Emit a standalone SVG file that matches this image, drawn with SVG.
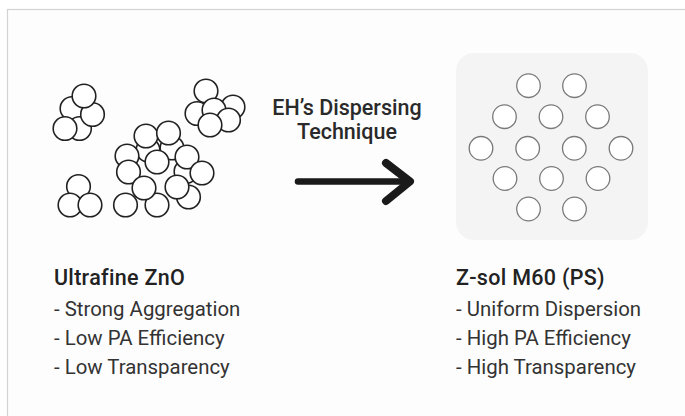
<svg xmlns="http://www.w3.org/2000/svg" width="685" height="416" viewBox="0 0 685 416">
<defs>
<style>
.agg{fill:#ffffff;stroke:#222222;stroke-width:1.6}
.dsp{fill:#ffffff;stroke:#7a7a7a;stroke-width:1.3}
.title{font-family:Roboto,"Liberation Sans",sans-serif;font-weight:500;font-size:21.5px;letter-spacing:0.3px;fill:#222222}
.item{font-family:Roboto,"Liberation Sans",sans-serif;font-weight:400;font-size:20.4px;fill:#333333}
.lbl{font-family:Roboto,"Liberation Sans",sans-serif;font-weight:500;font-size:21.5px;fill:#2a2a2a;text-anchor:middle}
</style>
</defs>
<rect x="0" y="0" width="685" height="416" fill="#ffffff"/>
<rect x="7.5" y="9.5" width="700" height="420" fill="#fdfdfd" stroke="#d2d2d2" stroke-width="1.2"/>

<g id="aggregated-zno">
  <circle class="agg" cx="72" cy="108.5" r="11.8"/>
  <circle class="agg" cx="79.5" cy="128.5" r="11.8"/>
  <circle class="agg" cx="92.5" cy="114.5" r="11.8"/>
  <circle class="agg" cx="84" cy="96" r="11.8"/>
  <circle class="agg" cx="65" cy="128.5" r="11.8"/>

  <circle class="agg" cx="206" cy="91" r="11.8"/>
  <circle class="agg" cx="197" cy="113.5" r="11.8"/>
  <circle class="agg" cx="233" cy="107" r="11.8"/>
  <circle class="agg" cx="214" cy="110" r="11.8"/>
  <circle class="agg" cx="228.5" cy="120" r="11.8"/>
  <circle class="agg" cx="210" cy="125" r="11.8"/>

  <circle class="agg" cx="148" cy="150" r="11.8"/>
  <circle class="agg" cx="172" cy="148" r="11.8"/>
  <circle class="agg" cx="186" cy="171.5" r="11.8"/>
  <circle class="agg" cx="146" cy="136" r="11.8"/>
  <circle class="agg" cx="168.5" cy="133" r="11.8"/>
  <circle class="agg" cx="127" cy="156" r="11.8"/>
  <circle class="agg" cx="187" cy="157" r="11.8"/>
  <circle class="agg" cx="128.5" cy="172" r="11.8"/>
  <circle class="agg" cx="157" cy="162" r="11.8"/>
  <circle class="agg" cx="202" cy="173" r="11.8"/>
  <circle class="agg" cx="188.5" cy="197" r="11.8"/>
  <circle class="agg" cx="125.5" cy="205" r="11.8"/>
  <circle class="agg" cx="157" cy="205" r="11.8"/>
  <circle class="agg" cx="177" cy="187" r="11.8"/>
  <circle class="agg" cx="144" cy="188" r="11.8"/>

  <circle class="agg" cx="78.5" cy="186.5" r="11.8"/>
  <circle class="agg" cx="70" cy="205" r="11.8"/>
  <circle class="agg" cx="90" cy="205" r="11.8"/>
</g>

<g id="dispersed-zsol">
  <rect x="456" y="53" width="192" height="187" rx="18" fill="#f4f4f4"/>
  <circle class="dsp" cx="528.5" cy="85.7" r="11.8"/>
  <circle class="dsp" cx="574.5" cy="85.7" r="11.8"/>
  <circle class="dsp" cx="504.5" cy="116.7" r="11.8"/>
  <circle class="dsp" cx="551" cy="116.7" r="11.8"/>
  <circle class="dsp" cx="597.5" cy="116.7" r="11.8"/>
  <circle class="dsp" cx="481" cy="148.3" r="11.8"/>
  <circle class="dsp" cx="527.7" cy="148.3" r="11.8"/>
  <circle class="dsp" cx="574.3" cy="148.3" r="11.8"/>
  <circle class="dsp" cx="621" cy="148.3" r="11.8"/>
  <circle class="dsp" cx="505" cy="178.5" r="11.8"/>
  <circle class="dsp" cx="551.5" cy="178.5" r="11.8"/>
  <circle class="dsp" cx="598" cy="178.5" r="11.8"/>
  <circle class="dsp" cx="528.5" cy="209" r="11.8"/>
  <circle class="dsp" cx="574.5" cy="209" r="11.8"/>
</g>

<g id="connectors">
  <line x1="298" y1="181.5" x2="406" y2="181.5" stroke="#1a1a1a" stroke-width="6.5" stroke-linecap="round"/>
  <polyline points="386,163 410,181.5 386,201" fill="none" stroke="#1a1a1a" stroke-width="8" stroke-linecap="round" stroke-linejoin="round"/>
  <text class="lbl" x="347" y="115">EH’s Dispersing</text>
  <text class="lbl" x="347" y="138.5">Technique</text>
</g>

<g id="left-caption">
  <text class="title" x="54" y="285">Ultrafine ZnO</text>
  <text class="item" x="54" y="315.5">- Strong Aggregation</text>
  <text class="item" x="54" y="344.5">- Low PA Efficiency</text>
  <text class="item" x="54" y="373.5">- Low Transparency</text>
</g>

<g id="right-caption">
  <text class="title" x="456" y="285">Z-sol M60 (PS)</text>
  <text class="item" x="456" y="315.5">- Uniform Dispersion</text>
  <text class="item" x="456" y="344.5">- High PA Efficiency</text>
  <text class="item" x="456" y="373.5">- High Transparency</text>
</g>
</svg>
